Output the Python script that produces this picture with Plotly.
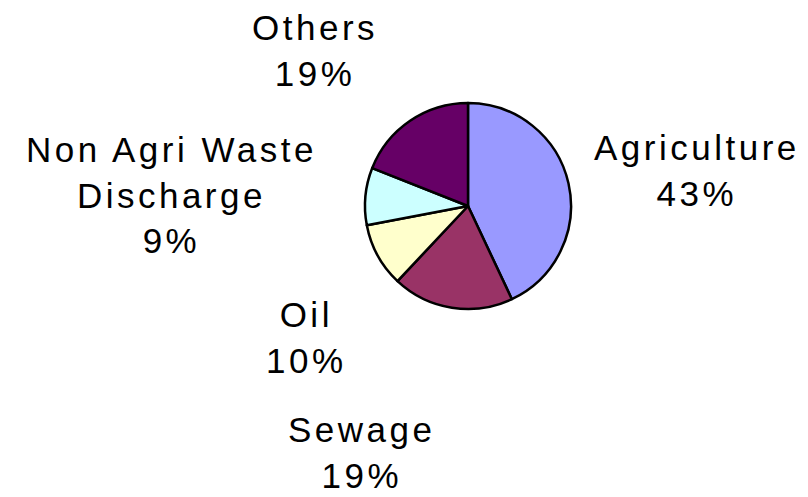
import plotly.graph_objects as go

categories = ["Agriculture", "Sewage", "Oil", "Non Agri Waste Discharge", "Others"]
label_lines = [["Agriculture"], ["Sewage"], ["Oil"], ["Non Agri Waste", "Discharge"], ["Others"]]
values = [43, 19, 10, 9, 19]
colors = ["#9999FF", "#993366", "#FFFFCC", "#CCFFFF", "#660066"]

W, H = 808, 497
cx, cy, r = 468, 206, 103

# label block centres (pixels)
label_pos = [(697, 171), (361, 452), (306, 337), (171, 195), (315, 50)]

fig = go.Figure()
fig.add_trace(go.Pie(
    labels=categories, values=values, sort=False, direction="clockwise", rotation=0,
    marker=dict(colors=colors, line=dict(color="black", width=2.5)),
    textinfo="none", hoverinfo="label+percent", showlegend=False,
    domain=dict(x=[(cx - r) / W, (cx + r) / W], y=[1 - (cy + r) / H, 1 - (cy - r) / H]),
))

def sp(s):
    return '<span style="letter-spacing:3.5px">' + s + '</span>'

total = sum(values)
for lines, v, (px, py) in zip(label_lines, values, label_pos):
    pct = round(100 * v / total)
    txt = "<br>".join(sp(l) for l in lines) + "<br>" + sp(f"{pct}%")
    fig.add_annotation(x=px / W, y=1 - py / H, xref="paper", yref="paper",
                       text=txt, showarrow=False, xanchor="center", yanchor="middle",
                       align="center",
                       font=dict(family="Liberation Sans, Arial", size=35, color="black"))

fig.update_layout(width=W, height=H, margin=dict(l=0, r=0, t=0, b=0),
                  paper_bgcolor="white", plot_bgcolor="white")
fig.write_html("out.html", config={"displayModeBar": False},
               post_script="document.body.style.margin='0';")
